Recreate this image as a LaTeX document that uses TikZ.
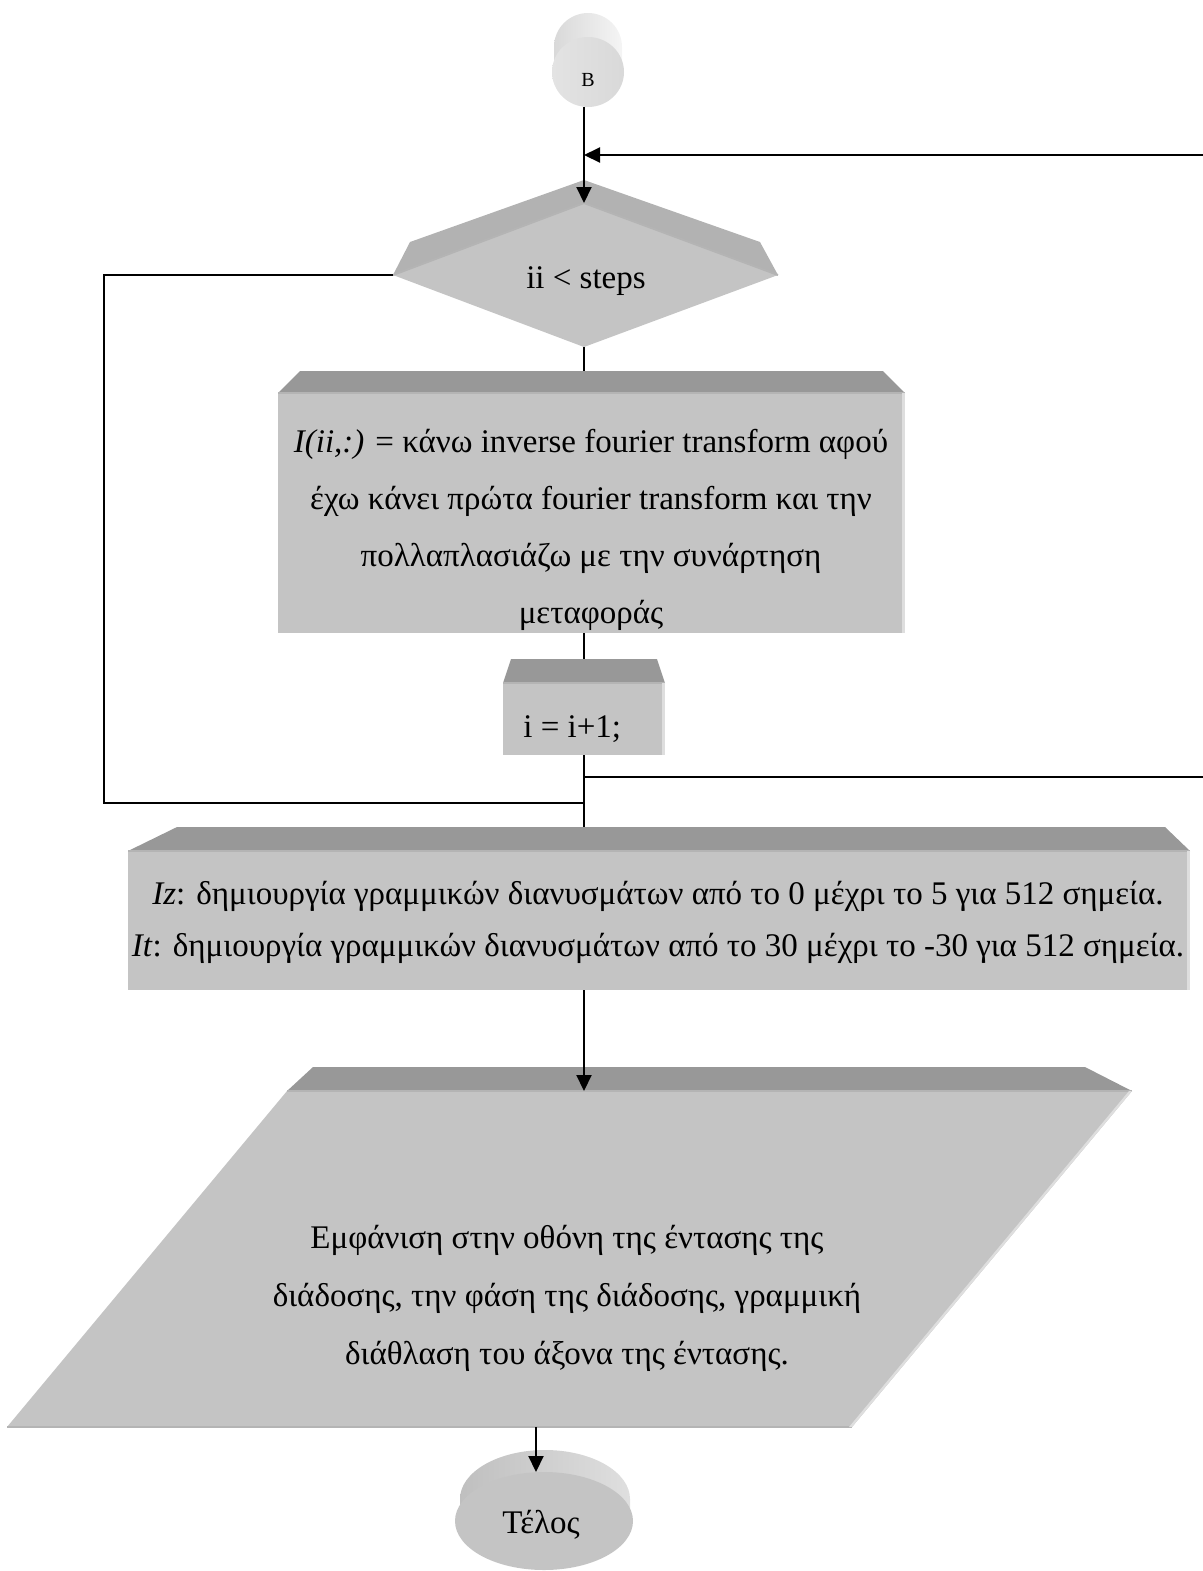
\documentclass[tikz,border=0pt]{standalone}
\usepackage{fontspec}
\setmainfont{Liberation Serif}
\usetikzlibrary{arrows.meta,shapes.geometric}
\definecolor{face}{RGB}{196,196,196}
\definecolor{bevel}{RGB}{152,152,152}
\definecolor{dtop}{RGB}{178,178,178}
\definecolor{rim}{RGB}{180,180,180}
\definecolor{side}{RGB}{222,222,222}
\begin{document}
\begin{tikzpicture}[x=0.5pt,y=-0.5pt,
  conn/.style={line width=1pt,black},
  arr/.style={conn,-{Triangle[length=8pt,width=7.5pt]}},
  txt/.style={font=\fontsize{16.5}{28.5}\selectfont,align=center,inner sep=0pt},
  rimline/.style={draw=rim,line width=1pt}]
\useasboundingbox (0,0) rectangle (1203,1571);

% ---------- B connector (cylinder) ----------
\shade[left color=gray!30,right color=gray!8] (554,47) arc[start angle=180,end angle=0,x radius=17pt,y radius=17pt] -- (622,72) -- (554,72) -- cycle;
\shade[left color=gray!22,right color=gray!30] (588,72) ellipse[x radius=18pt,y radius=17.5pt];
\node[txt,font=\fontsize{10}{12}\selectfont] (B) at (588,80) {B};

% ---------- decision ----------
\fill[dtop] (393,275) -- (410,242) -- (584,180) -- (760,242) -- (778,275) -- cycle;
\fill[face] (393,275) -- (584,203) -- (778,275) -- (584,347) -- cycle;
\draw[rimline] (393,275) -- (584,203) -- (778,275);
\node[txt] (D) at (586,281) {ii < steps};

% ---------- process 1 ----------
\fill[bevel] (278,393) -- (300,371) -- (883,371) -- (905,393) -- cycle;
\fill[face] (278,393) rectangle (905,633);
\draw[rimline] (278,393) -- (905,393);
\fill[side] (902,393) rectangle (905,633);
\node[txt] (P1) at (591,530) {\textit{I(ii,:)} = κάνω inverse fourier transform αφού\\
έχω κάνει πρώτα fourier transform και την\\
πολλαπλασιάζω με την συνάρτηση\\
μεταφοράς};

% ---------- process 2 ----------
\fill[bevel] (503,683) -- (511,659) -- (657,659) -- (665,683) -- cycle;
\fill[face] (503,683) rectangle (665,755);
\draw[rimline] (503,683) -- (665,683);
\fill[side] (662,683) rectangle (665,755);
\node[txt,anchor=west] (P2) at (523,729) {i = i+1;};

% ---------- process 3 ----------
\fill[bevel] (128,851) -- (177,827) -- (1165,827) -- (1190,851) -- cycle;
\fill[face] (128,851) rectangle (1190,990);
\draw[rimline] (128,851) -- (1190,851);
\fill[side] (1187,851) rectangle (1190,990);
\node[txt,font=\fontsize{16.5}{26}\selectfont] (P3) at (658,922) {\textit{Iz}: δημιουργία γραμμικών διανυσμάτων από το 0 μέχρι το 5 για 512 σημεία.\\
\textit{It}: δημιουργία γραμμικών διανυσμάτων από το 30 μέχρι το -30 για 512 σημεία.};

% ---------- output (parallelogram) ----------
\fill[bevel] (287,1091) -- (313,1067) -- (1085,1067) -- (1132,1091) -- cycle;
\fill[face] (287,1091) -- (1132,1091) -- (852,1427) -- (7,1427) -- cycle;
\draw[rimline] (287,1091) -- (1132,1091);
\draw[rimline] (7,1427) -- (852,1427);
\fill[side] (1129,1091) -- (1132,1091) -- (852,1427) -- (849,1427) -- cycle;
\node[txt,font=\fontsize{16.5}{29}\selectfont] (P4) at (567,1298) {Εμφάνιση στην οθόνη της έντασης της\\
διάδοσης, την φάση της διάδοσης, γραμμική\\
διάθλαση του άξονα της έντασης.};

% ---------- end terminal ----------
\shade[left color=gray!50,right color=gray!25] (460,1499) arc[start angle=180,end angle=0,x radius=42.5pt,y radius=24.5pt] -- (630,1521) -- (460,1521) -- cycle;
\fill[face] (544,1521) ellipse[x radius=44.5pt,y radius=24.5pt];
\node[txt] (E) at (541,1525) {Τέλος};

% ---------- connector points ----------
\coordinate (Bb) at (584,107);
\coordinate (Dt) at (584,203);
\coordinate (Dl) at (393,275);
\coordinate (Db) at (584,347);
\coordinate (P1t) at (584,371);
\coordinate (P1b) at (584,633);
\coordinate (P2t) at (584,659);
\coordinate (P2b) at (584,755);
\coordinate (P3t) at (584,827);
\coordinate (P3b) at (584,990);
\coordinate (P4t) at (584,1091);
\coordinate (P4b) at (536,1427);
\coordinate (Et) at (536,1472);
\coordinate (Rin) at (1203,155);
\coordinate (Jin) at (584,155);
\coordinate (Rout) at (1203,777);
\coordinate (Jout) at (584,777);
\coordinate (L1) at (104,275);
\coordinate (L2) at (104,803);
\coordinate (Jl) at (584,803);

% ---------- connectors ----------
\draw[arr] (Bb) -- (Dt);
\draw[arr] (Rin) -- (Jin);
\draw[conn] (Db) -- (P1t);
\draw[conn] (P1b) -- (P2t);
\draw[conn] (P2b) -- (P3t);
\draw[conn] (Jout) -- (Rout);
\draw[conn] (Dl) -- (L1) -- (L2) -- (Jl);
\draw[arr] (P3b) -- (P4t);
\draw[arr] (P4b) -- (Et);
\end{tikzpicture}
\end{document}
